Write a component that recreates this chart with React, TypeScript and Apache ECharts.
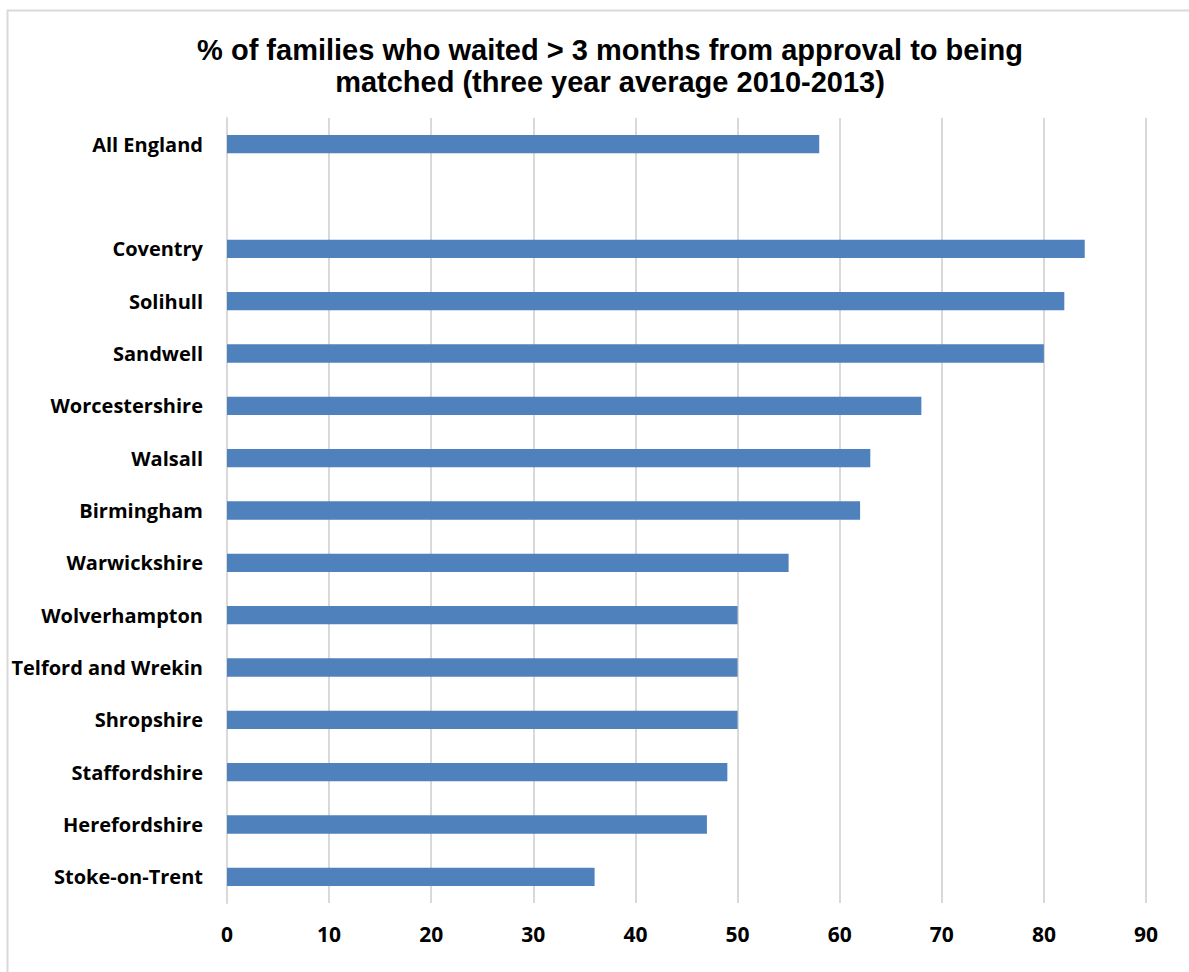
import React, { useEffect, useRef } from "react";
import * as echarts from "echarts";

const categories = [
  "All England",
  "",
  "Coventry",
  "Solihull",
  "Sandwell",
  "Worcestershire",
  "Walsall",
  "Birmingham",
  "Warwickshire",
  "Wolverhampton",
  "Telford and Wrekin",
  "Shropshire",
  "Staffordshire",
  "Herefordshire",
  "Stoke-on-Trent",
];
const values: (number | null)[] = [58, null, 84, 82, 80, 68, 63, 62, 55, 50, 50, 50, 49, 47, 36];
const titleText = "% of families who waited > 3 months from approval to being\nmatched (three year average 2010-2013)";

export default function App() {
  const ref = useRef<HTMLDivElement>(null);
  useEffect(() => {
    document.body.style.margin = "0";
    const chart = echarts.init(ref.current!, null, { renderer: "svg" });
    chart.setOption({
      animation: false,
      backgroundColor: "#ffffff",
      graphic: [
        {
          type: "rect",
          shape: { x: 7.5, y: 10.5, width: 1300, height: 1100 },
          style: { fill: "none", stroke: "#d9d9d9", lineWidth: 2 },
          silent: true,
        },
      ],
      title: {
        text: titleText,
        left: 605,
        textAlign: "center",
        top: 29,
        textStyle: {
          fontFamily: "Liberation Sans, Arial, sans-serif",
          fontWeight: "bold",
          fontSize: 29,
          lineHeight: 32,
          color: "#000000",
        },
      },
      grid: { left: 227, right: 43, top: 118, bottom: 69, containLabel: false },
      xAxis: {
        type: "value",
        min: 0,
        max: 90,
        interval: 10,
        axisLine: { show: false },
        axisTick: { show: false },
        splitLine: { show: true, lineStyle: { color: "#d9d9d9", width: 2 } },
        axisLabel: {
          margin: 20,
          fontFamily: "Open Sans, sans-serif",
          fontWeight: "bold",
          fontSize: 21,
          color: "#000000",
        },
      },
      yAxis: {
        type: "category",
        inverse: true,
        data: categories,
        axisLine: { show: true, lineStyle: { color: "#d9d9d9", width: 2 } },
        axisTick: { show: false },
        axisLabel: {
          margin: 24,
          fontFamily: "Open Sans, sans-serif",
          fontWeight: "bold",
          fontSize: 20,
          color: "#000000",
        },
      },
      series: [
        {
          type: "bar",
          data: values,
          barWidth: "35%",
          itemStyle: { color: "#4F81BD" },
        },
      ],
    });
    return () => chart.dispose();
  }, []);
  return <div ref={ref} style={{ width: 1189, height: 972 }} />;
}
